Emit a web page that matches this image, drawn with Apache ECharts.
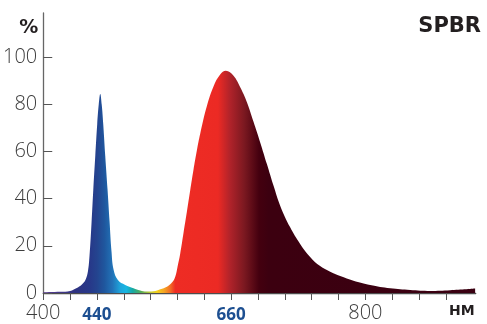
<!DOCTYPE html>
<html><head><meta charset="utf-8">
<script src="https://cdn.jsdelivr.net/npm/echarts@6/dist/echarts.min.js"></script>
<style>html,body{margin:0;padding:0;background:#fff}#c{width:487px;height:324px}</style>
</head><body><div id="c"></div>
<script>
// ---- data ----
const wavelength = [400, 421, 433.5, 441, 448, 452.5, 455.5, 457.5, 460, 462.1, 464.6, 467, 468.9, 470.8, 472.6, 474.5, 477, 479.8, 482.3, 484.8, 487.3, 492.7, 501.8, 512.1, 520.4, 528, 536.9, 545.3, 553.6, 559.8, 563.9, 566.7, 570.1, 574.2, 578.4, 582.5, 586.6, 590.8, 594.9, 603.2, 611.4, 619.7, 626.8, 636.3, 644.6, 652.9, 661.1, 669.4, 677.7, 686, 694.2, 706.6, 719, 731.4, 743.8, 756.3, 768.7, 785.2, 805.9, 830.8, 855.6, 880.5, 905.3, 936.3];
const intensity = [0.3, 0.5, 0.9, 2.0, 3.6, 5.6, 9.2, 16.0, 30.0, 43.5, 58.0, 71.5, 79.8, 84.3, 79.8, 71.5, 58.0, 44.0, 30.6, 17.5, 10.0, 5.5, 3.4, 2.0, 1.1, 0.6, 0.7, 1.6, 2.7, 4.4, 6.9, 11.0, 16.7, 25.5, 34.5, 43.5, 52.3, 60.5, 67.5, 79.2, 87.5, 92.5, 94.1, 92.0, 87.1, 80.8, 72.5, 63.8, 54.6, 45.4, 37.0, 27.8, 20.8, 15.3, 11.4, 9.0, 7.2, 5.2, 3.4, 2.0, 1.3, 0.9, 1.2, 1.9];
const yTickValues = [0, 20, 40, 60, 80, 100];
const xTickValues = [400, 433.33, 466.67, 500, 533.33, 566.67, 600, 633.33, 666.67, 700, 733.33, 766.67, 800, 833.33, 866.67, 900];
const xLabelValues = [400, 466.67, 633.33, 800];
const xLabelTexts = ['400', '440', '660', '800'];
const peakLabels = ['440', '660'];
const yUnit = '%';
const xUnit = 'НМ';
const chartTitle = 'SPBR';

// ---- style: spectral colour stops along the wavelength ----
const spectrumStops = [
  [400, '#5d3f8f'], [440, '#2e3281'], [458, '#273889'], [467, '#24448f'],
  [476, '#1f579e'], [486, '#2273b8'], [496, '#1ea6dc'], [503, '#18b6e2'],
  [511, '#17a9a3'], [521, '#52ad5a'], [532, '#b9c935'], [541, '#f4d21c'],
  [550, '#f5a524'], [558, '#f26a25'], [564, '#ee2c24'], [617, '#ec2a24'],
  [632, '#b0232a'], [650, '#7a1820'], [668, '#44000f'], [680, '#3c0010'], [936.3, '#3a0011']
];
const x0 = wavelength[0], x1 = wavelength[wavelength.length - 1];
const colorStops = spectrumStops.map(s => ({ offset: Math.min(1, Math.max(0, (s[0] - x0) / (x1 - x0))), color: s[1] }));

const near = (a, b) => Math.abs(a - b) < 0.5;

const chart = echarts.init(document.getElementById('c'), null, { renderer: 'canvas' });
chart.setOption({
  animation: false,
  backgroundColor: '#fff',
  title: {
    text: chartTitle, right: 1, top: 11,
    textStyle: { fontFamily: 'DejaVu Sans', fontWeight: 'bold', fontSize: 21, color: '#231f20' }
  },
  grid: { left: 43, right: 11.3, top: 13, bottom: 27.5 },
  xAxis: {
    type: 'value', min: 400, max: 937,
    name: xUnit, nameLocation: 'end', nameGap: -1,
    nameTextStyle: { fontFamily: 'DejaVu Sans', fontWeight: 'bold', fontSize: 14, color: '#231f20', align: 'right', verticalAlign: 'top', padding: [11, 0, 0, 0] },
    axisLine: { show: true, lineStyle: { color: '#4d4d4d', width: 1.3 } },
    axisTick: { show: true, inside: false, length: 7, customValues: xTickValues, lineStyle: { color: '#555', width: 1 } },
    splitLine: { show: false },
    axisLabel: {
      customValues: xLabelValues, margin: 10,
      formatter: function (v) {
        let t = '';
        xLabelValues.forEach((p, i) => { if (near(p, v)) t = xLabelTexts[i]; });
        return peakLabels.indexOf(t) >= 0 ? '{pk|' + t + '}' : '{n|' + t + '}';
      },
      rich: {
        n: { fontFamily: 'Open Sans', fontWeight: 300, fontSize: 20, color: '#3d3d3d' },
        pk: { fontFamily: 'Open Sans', fontWeight: 'bold', fontSize: 17, color: '#1d4f91', padding: [4, 0, 0, 0] }
      }
    }
  },
  yAxis: {
    type: 'value', min: 0, max: 118.6,
    name: yUnit, nameLocation: 'end', nameGap: -15,
    nameTextStyle: { fontFamily: 'DejaVu Sans', fontWeight: 'bold', fontSize: 19, color: '#231f20', align: 'right', verticalAlign: 'middle', padding: [0, 5, 0, 0] },
    axisLine: { show: true, lineStyle: { color: '#666', width: 1.3 } },
    axisTick: { show: true, inside: true, length: 9, customValues: yTickValues, lineStyle: { color: '#555', width: 1 } },
    splitLine: { show: false },
    axisLabel: {
      customValues: yTickValues, margin: 6,
      fontFamily: 'Open Sans', fontWeight: 300, fontSize: 20, color: '#3d3d3d',
      padding: [0, 0, 13, 0]
    }
  },
  series: [{
    type: 'line',
    data: wavelength.map((w, i) => [w, intensity[i]]),
    smooth: 0.4,
    showSymbol: false,
    lineStyle: { width: 0 },
    areaStyle: { opacity: 1, color: { type: 'linear', x: 0, y: 0, x2: 1, y2: 0, colorStops: colorStops } },
    silent: true
  }]
});
</script></body></html>
